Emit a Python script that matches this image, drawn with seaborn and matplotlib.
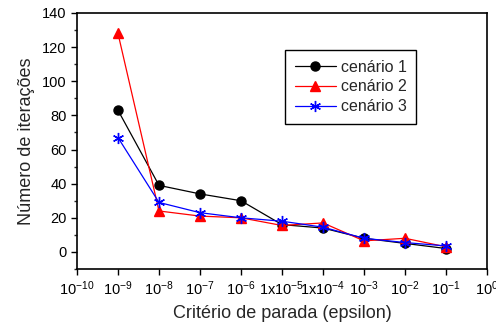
import numpy as np
import pandas as pd
import matplotlib
matplotlib.use('Agg')
import matplotlib.pyplot as plt
import seaborn as sns
from matplotlib.ticker import MultipleLocator, FixedLocator

# dados
epsilon = [1e-9, 1e-8, 1e-7, 1e-6, 1e-5, 1e-4, 1e-3, 1e-2, 1e-1]
cenario1 = [83, 39, 34, 30, 16, 14, 8, 5, 2]
cenario2 = [128, 24, 21, 20, 15.5, 17, 6.5, 8, 3]
cenario3 = [67, 29, 23, 20, 18, 14.5, 8, 5.5, 3.5]
series = ['cenário 1', 'cenário 2', 'cenário 3']

tick_vals = [10.0 ** k for k in range(-10, 1)]
tick_labels = ['$10^{-10}$', '$10^{-9}$', '$10^{-8}$', '$10^{-7}$', '$10^{-6}$',
               '1x$10^{-5}$', '1x$10^{-4}$', '$10^{-3}$', '$10^{-2}$', '$10^{-1}$', '$10^{0}$']

sns.set_style('ticks')
plt.rcParams['font.family'] = ['Liberation Sans', 'DejaVu Sans']
plt.rcParams['mathtext.fontset'] = 'custom'
plt.rcParams['mathtext.rm'] = 'Liberation Sans'
plt.rcParams['mathtext.it'] = 'Liberation Sans'

fig = plt.figure(figsize=(4.96, 3.29), dpi=100)
ax = fig.add_axes([77 / 496, 1 - 269 / 329, 410 / 496, 256 / 329])

estilos = [('black', 'o', 6.5), ('red', '^', 6.5), ('blue', (6, 2, 0), 8)]
for nome, vals, (cor, mk, ms) in zip(series, [cenario1, cenario2, cenario3], estilos):
    sns.lineplot(x=epsilon, y=vals, color=cor, marker=mk, markersize=ms,
                 markeredgecolor=cor, markeredgewidth=1.0, linewidth=0.9,
                 label=nome, ax=ax)

ax.set_xscale('log')
ax.set_xlim(1e-10, 1)
ax.set_ylim(-10, 140)
ax.set_xticks(tick_vals)
ax.set_xticklabels(tick_labels)
ax.xaxis.set_minor_locator(FixedLocator([]))
ax.yaxis.set_major_locator(FixedLocator([0, 20, 40, 60, 80, 100, 120, 140]))
ax.yaxis.set_minor_locator(MultipleLocator(10))
ax.tick_params(axis='both', which='major', direction='out', length=4, width=1,
               labelsize=10.5, colors='black')
ax.tick_params(axis='y', which='minor', direction='out', length=2.5, width=1)
for sp in ax.spines.values():
    sp.set_linewidth(1.2)
    sp.set_color('black')

ax.set_xlabel('Critério de parada (epsilon)', fontsize=13, labelpad=5)
ax.set_ylabel('Número de iterações', fontsize=13, labelpad=5)

leg = ax.legend(loc='upper left', bbox_to_anchor=(208 / 410, 1 - 37 / 256),
                borderaxespad=0, fontsize=11.5, frameon=True, fancybox=False,
                edgecolor='black', handlelength=2.6, borderpad=0.6,
                labelspacing=0.3, handletextpad=0.3)
leg.get_frame().set_linewidth(1.0)
leg.get_frame().set_alpha(1)

fig.savefig('out.png', dpi=100)
